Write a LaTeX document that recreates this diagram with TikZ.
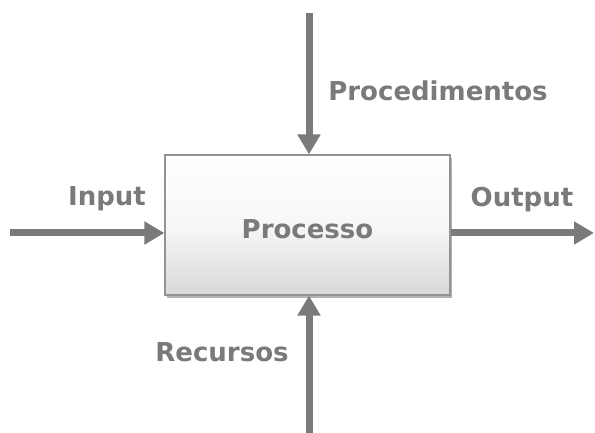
\documentclass[tikz,border=0pt]{standalone}
\usepackage{fontspec}
\setmainfont{DejaVu Sans}
\usetikzlibrary{arrows.meta,shadows}
\definecolor{cinza}{RGB}{122,122,122}
\tikzset{t/.style={font=\fontsize{26}{26}\selectfont\bfseries,text=cinza,anchor=base,inner sep=0pt}}
\tikzset{seta/.style={draw=cinza,line width=7pt,-{Triangle[length=20pt,width=22pt]}}}

\begin{document}
\begin{tikzpicture}[x=1pt,y=-1pt]
        \useasboundingbox (0,0) rectangle (595,433);
        \node[draw=gray!85,line width=1.2pt,top color=white,bottom color=gray!30,middle color=gray!6,
              minimum width=285pt,minimum height=140pt,inner sep=0pt,
              drop shadow={shadow xshift=1.5pt,shadow yshift=-3pt,opacity=.6,fill=gray},
              text height=27pt,text depth=0pt,
              font=\fontsize{26}{26}\selectfont\bfseries,text=cinza] (proc) at (307.5,225) {Processo};
        % entradas e saidas
        \coordinate (ein) at (10,233);
        \coordinate (eout) at (594,233);
        \coordinate (ecima) at (309,13);
        \coordinate (ebaixo) at (309,433);
        \draw[seta] (ein) -- (ein -| proc.west);
        \draw[seta] (proc.east |- eout) -- (eout);
        \draw[seta] (ecima) -- (ecima |- proc.north);
        \draw[seta] (ebaixo) -- (ebaixo |- proc.south);
        % rotulos
        \node[t] (lin) at (107,206) {Input};
        \node[t] (lout) at (522,207) {Output};
        \node[t] (lproc) at (438,101) {Procedimentos};
        \node[t] (lrec) at (222,361) {Recursos};
      \end{tikzpicture}
\end{document}
